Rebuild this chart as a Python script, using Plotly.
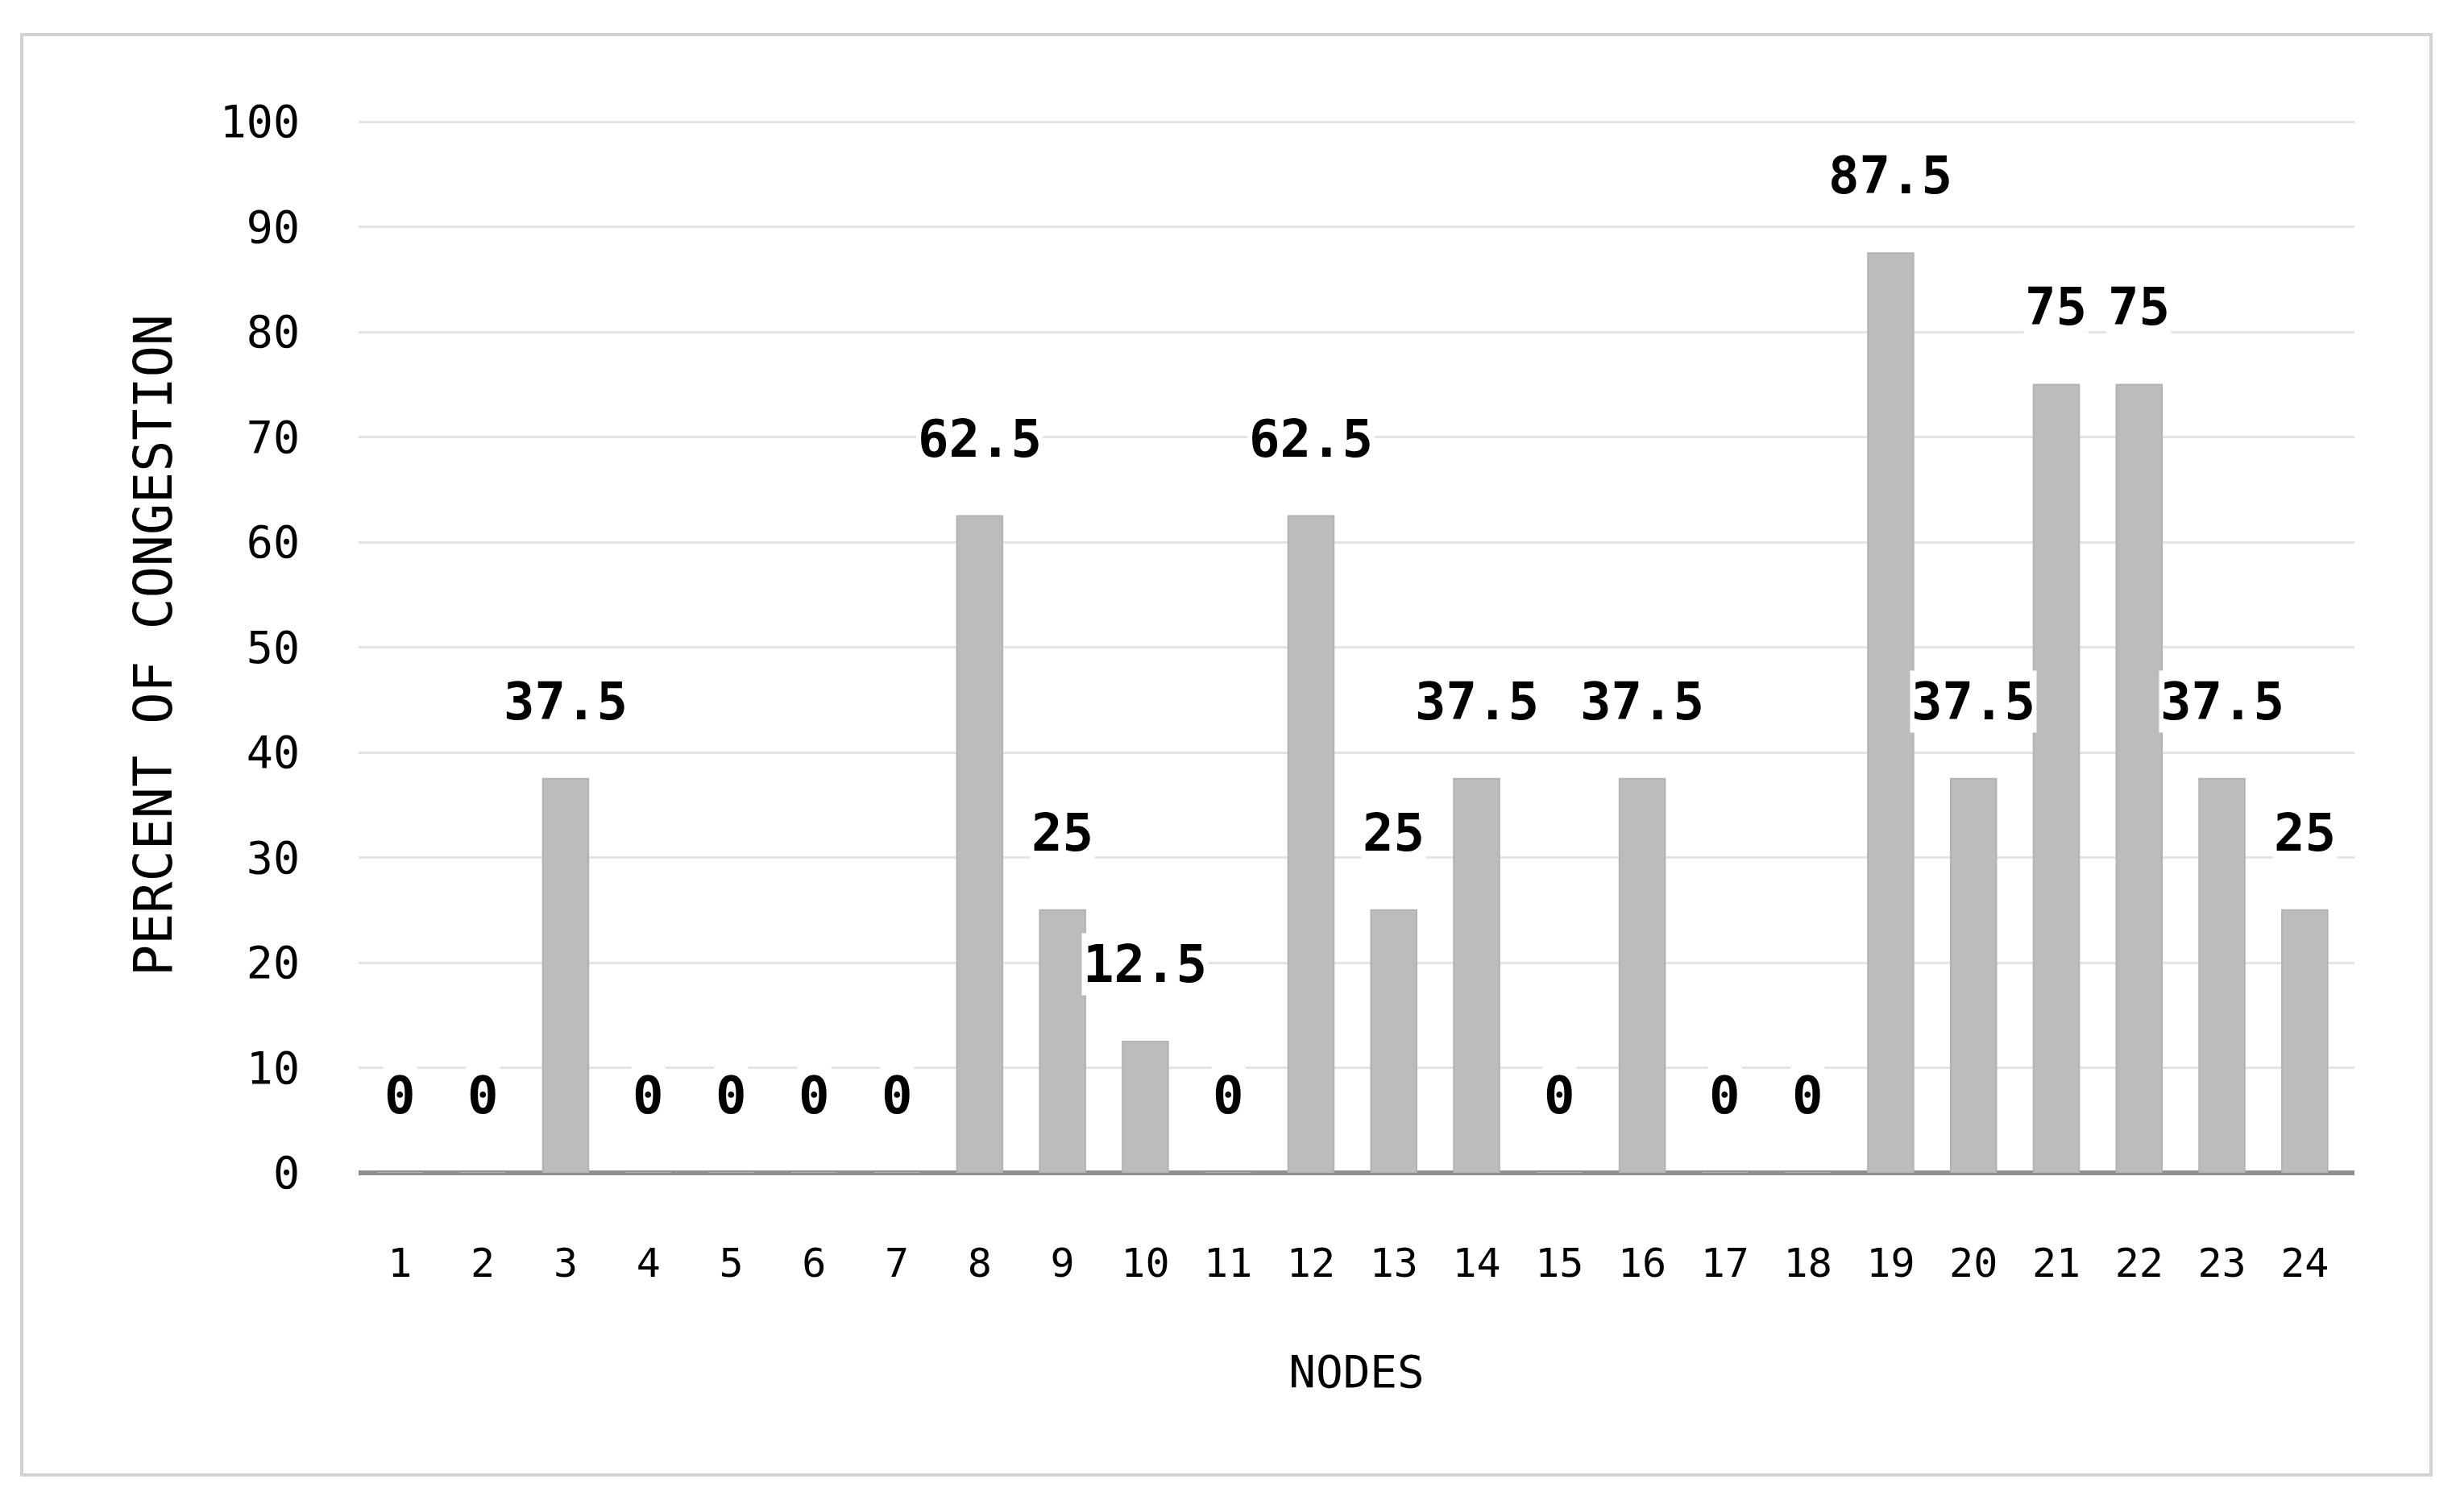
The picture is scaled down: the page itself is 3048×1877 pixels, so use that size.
import plotly.graph_objects as go

nodes = list(range(1, 25))
congestion = [0, 0, 37.5, 0, 0, 0, 0, 62.5, 25, 12.5, 0, 62.5,
              25, 37.5, 0, 37.5, 0, 0, 87.5, 37.5, 75, 75, 37.5, 25]
y_ticks = [0, 10, 20, 30, 40, 50, 60, 70, 80, 90, 100]

FONT = "DejaVu Sans Mono"
W, H = 3040, 1869
L, R, T, B = 437, 126, 138, 421

fig = go.Figure()
fig.add_trace(go.Bar(
    x=nodes, y=congestion, width=0.55,
    marker=dict(color="#bcbcbc", line=dict(color="#b2b2b2", width=2)),
    showlegend=False, hoverinfo="x+y",
))

def fmt(v):
    return str(int(v)) if float(v).is_integer() else str(v)

for n, v in zip(nodes, congestion):
    fig.add_annotation(
        x=n, y=v, text=fmt(v), showarrow=False, yanchor="middle", yshift=96,
        font=dict(family=FONT, size=64, color="black", weight="bold"),
        bgcolor="white",
    )

pw = W - L - R
ph = H - T - B
fig.add_shape(
    type="rect", xref="paper", yref="paper",
    x0=(19 - L) / pw, x1=(3009 - L) / pw,
    y0=((H - B) - 1823) / ph, y1=((H - B) - 35) / ph,
    line=dict(color="#d2d2d2", width=4), fillcolor="rgba(0,0,0,0)", layer="below",
)

fig.update_layout(
    width=W, height=H,
    margin=dict(l=L, r=R, t=T, b=B, pad=0),
    paper_bgcolor="white", plot_bgcolor="white",
    font=dict(family=FONT, color="black"),
    xaxis=dict(
        range=[0.5, 24.6], tickmode="array", tickvals=nodes,
        ticktext=[str(n) for n in nodes],
        tickfont=dict(family=FONT, size=50, color="black"),
        showgrid=False, showline=False, zeroline=False, ticks="",
        ticklabelstandoff=78,
        title=dict(text="NODES", font=dict(family=FONT, size=56, color="black"), standoff=86),
    ),
    yaxis=dict(
        range=[0, 100.4], tickmode="array", tickvals=y_ticks,
        tickfont=dict(family=FONT, size=55, color="black"),
        showgrid=True, gridcolor="#e4e4e4", gridwidth=3,
        zeroline=True, zerolinecolor="#8f8f8f", zerolinewidth=6,
        showline=False, ticks="", ticklabelstandoff=72,
        title=dict(text="PERCENT OF CONGESTION", font=dict(family=FONT, size=65, color="black"), standoff=37),
    ),
)

fig.write_html("out.html")
